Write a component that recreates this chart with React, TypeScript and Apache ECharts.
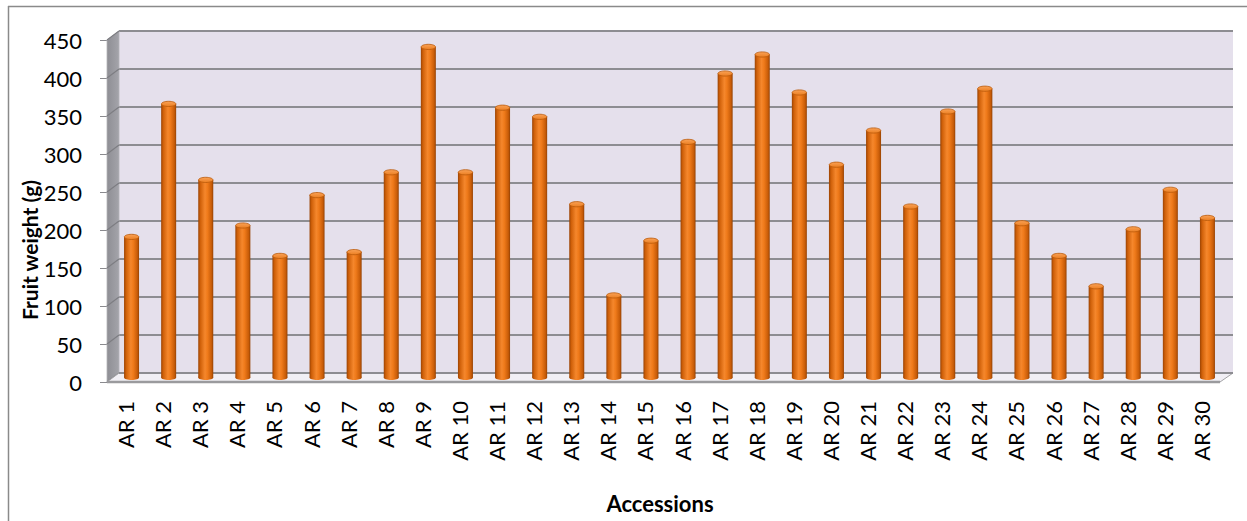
import React, { useEffect, useRef } from "react";
import * as echarts from "echarts";

// Accessions and their mean fruit weight (g)
const categories = [
  "AR 1", "AR 2", "AR 3", "AR 4", "AR 5", "AR 6", "AR 7", "AR 8", "AR 9", "AR 10",
  "AR 11", "AR 12", "AR 13", "AR 14", "AR 15", "AR 16", "AR 17", "AR 18", "AR 19", "AR 20",
  "AR 21", "AR 22", "AR 23", "AR 24", "AR 25", "AR 26", "AR 27", "AR 28", "AR 29", "AR 30",
];
const fruitWeight = [
  185, 360, 260, 200, 160, 240, 165, 270, 435, 270,
  355, 343, 228, 108, 180, 310, 400, 425, 375, 280,
  325, 225, 350, 380, 203, 160, 120, 195, 247, 210,
];
const yMin = 0;
const yMax = 450;
const yStep = 50;
const yTicks = [0, 50, 100, 150, 200, 250, 300, 350, 400, 450];

const yTitle = "Fruit weight (g)";
const xTitle = "Accessions";

const FONT = "Lato, 'Open Sans', sans-serif";
const GRID_LINE = "#8d8d92";

export default function App() {
  const ref = useRef<HTMLDivElement>(null);

  useEffect(() => {
    if (!ref.current) return;
    const chart = echarts.init(ref.current, undefined, { renderer: "svg" });

    const bodyGrad = () =>
      new echarts.graphic.LinearGradient(0, 0, 1, 0, [
        { offset: 0, color: "#9a4304" },
        { offset: 0.14, color: "#cf6009" },
        { offset: 0.45, color: "#f5872c" },
        { offset: 0.62, color: "#ef7a1a" },
        { offset: 0.88, color: "#c85c08" },
        { offset: 1, color: "#954204" },
      ]);
    const capGrad = () =>
      new echarts.graphic.LinearGradient(0, 0, 0, 1, [
        { offset: 0, color: "#f9a257" },
        { offset: 1, color: "#ec7f22" },
      ]);

    const valueAxisBase = {
      type: "value" as const,
      min: yMin,
      max: yMax,
      interval: yStep,
    };

    chart.setOption({
      animation: false,
      backgroundColor: "#ffffff",
      grid: [
        // back wall
        { left: 119, top: 31, width: 1114, height: 342, show: true, backgroundColor: "#e5e0ec", borderWidth: 0 },
        // front plane carrying the axis labels
        { left: 107, top: 40, width: 1113, height: 342 },
        // mid-depth plane where the columns stand
        { left: 113, top: 35.5, width: 1113, height: 342 },
      ],
      xAxis: [
        { gridIndex: 0, type: "category", data: categories, show: false },
        {
          gridIndex: 1,
          type: "category",
          data: categories,
          axisLine: { show: false },
          axisTick: { show: false },
          axisLabel: {
            rotate: 90,
            margin: 19,
            interval: 0,
            color: "#000",
            fontFamily: FONT,
            fontSize: 22,
          },
        },
        { gridIndex: 2, type: "category", data: categories, show: false },
      ],
      yAxis: [
        {
          ...valueAxisBase,
          gridIndex: 0,
          axisLabel: { show: false },
          axisLine: { show: false },
          axisTick: { show: false },
          splitLine: { show: true, lineStyle: { color: GRID_LINE, width: 2 } },
        },
        {
          ...valueAxisBase,
          gridIndex: 1,
          axisLine: { show: true, lineStyle: { color: "#8a8a8e", width: 1 } },
          axisTick: { show: true, length: 7, lineStyle: { color: "#8a8a8e", width: 1 } },
          axisLabel: { margin: 25, color: "#000", fontFamily: FONT, fontSize: 22 },
          splitLine: { show: false },
        },
        {
          ...valueAxisBase,
          gridIndex: 2,
          show: false,
          splitLine: { show: false },
        },
      ],
      series: [
        {
          type: "custom",
          xAxisIndex: 2,
          yAxisIndex: 2,
          z: 10,
          data: fruitWeight.map((v, i) => [i, v]),
          encode: { x: 0, y: 1 },
          renderItem: (_params: any, api: any) => {
            const idx = api.value(0);
            const v = api.value(1);
            const top = api.coord([idx, v]);
            const base = api.coord([idx, 0]);
            const half = 7.5;
            return {
              type: "group",
              children: [
                {
                  type: "ellipse",
                  shape: { cx: base[0], cy: base[1], rx: half, ry: 2.5 },
                  style: { fill: bodyGrad() },
                },
                {
                  type: "rect",
                  shape: { x: top[0] - half, y: top[1], width: half * 2, height: base[1] - top[1] },
                  style: { fill: bodyGrad() },
                },
                {
                  type: "ellipse",
                  shape: { cx: top[0], cy: top[1], rx: half - 0.3, ry: 2.6 },
                  style: { fill: capGrad(), stroke: "#b9590a", lineWidth: 0.8 },
                },
              ],
            };
          },
        },
      ],
    });

    // side wall, floor and frame, placed from the axes' own pixel mapping
    const front = (v: number) => chart.convertToPixel({ gridIndex: 1 }, [0, v])[1];
    const back = (v: number) => chart.convertToPixel({ gridIndex: 0 }, [0, v])[1];
    const fl = 107, fr = 1220, bl = 119, br = 1233;
    const fTop = front(yMax), fBot = front(yMin);
    const bTop = back(yMax), bBot = back(yMin);

    const diagonals = yTicks.map((t) => ({
      type: "line",
      z: 3,
      shape: { x1: fl, y1: front(t), x2: bl, y2: back(t) },
      style: { stroke: "#7d7d82", lineWidth: 1.2 },
    }));

    chart.setOption({
      graphic: [
        // outer chart frame (top and left edges)
        { type: "line", z: 1, shape: { x1: 8, y1: 6.5, x2: 1247, y2: 6.5 }, style: { stroke: "#8a8a8a", lineWidth: 1.5 } },
        { type: "line", z: 1, shape: { x1: 8.5, y1: 6, x2: 8.5, y2: 521 }, style: { stroke: "#8a8a8a", lineWidth: 1.5 } },
        // side wall
        {
          type: "polygon",
          z: 2,
          shape: { points: [[fl, fTop], [bl, bTop], [bl, bBot], [fl, fBot]] },
          style: {
            fill: new echarts.graphic.LinearGradient(0, 0, 1, 0, [
              { offset: 0, color: "#8e8e94" },
              { offset: 1, color: "#a4a4aa" },
            ]),
            stroke: "#b4b4b8",
            lineWidth: 0.8,
          },
        },
        ...diagonals,
        // floor
        {
          type: "polygon",
          z: 4,
          shape: { points: [[fl, fBot], [fr, fBot], [br, bBot], [bl, bBot]] },
          style: { fill: "#f1eff5", stroke: "#a3a3a6", lineWidth: 1 },
        },
        { type: "line", z: 4, shape: { x1: fl, y1: fBot, x2: fr, y2: fBot }, style: { stroke: "#9a9a9d", lineWidth: 2.5 } },
        { type: "line", z: 4, shape: { x1: bl, y1: bBot, x2: br, y2: bBot }, style: { stroke: GRID_LINE, lineWidth: 2 } },
        // axis titles
        {
          type: "text",
          z: 5,
          x: 29,
          y: 250,
          rotation: Math.PI / 2,
          style: {
            text: yTitle,
            fill: "#000",
            font: `bold 21px ${FONT}`,
            align: "center",
            verticalAlign: "middle",
          },
        },
        {
          type: "text",
          z: 5,
          x: 660,
          y: 503,
          style: {
            text: xTitle,
            fill: "#000",
            font: `bold 22px ${FONT}`,
            align: "center",
            verticalAlign: "middle",
          },
        },
      ],
    });

    return () => chart.dispose();
  }, []);

  return (
    <div
      ref={ref}
      style={{ position: "fixed", left: 0, top: 0, width: 1247, height: 521 }}
    />
  );
}
